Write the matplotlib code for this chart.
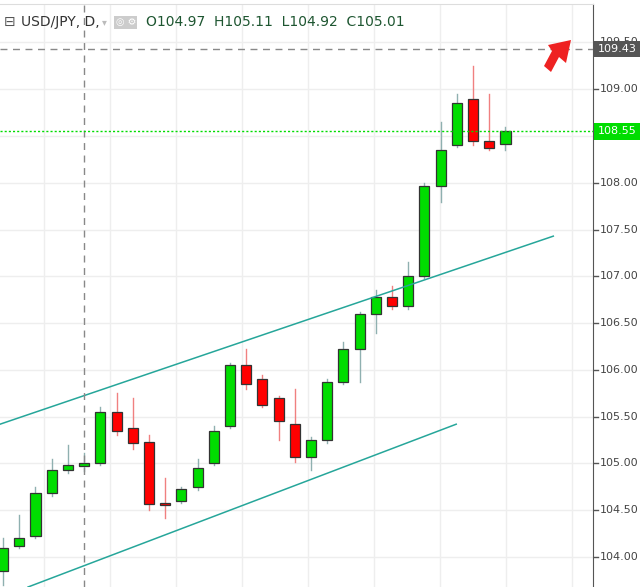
import matplotlib
matplotlib.use("Agg")
import matplotlib.pyplot as plt
from matplotlib.patches import Rectangle, Polygon
import numpy as np

opens  = [103.85,104.12,104.23,104.68,104.93,104.97,105.01,105.55,105.38,105.23,104.58,104.60,104.75,105.00,105.40,106.05,105.90,105.70,105.42,105.07,105.25,105.87,106.22,106.60,106.78,106.68,107.00,107.97,108.40,108.90,108.45,108.42]
closes = [104.10,104.20,104.68,104.93,104.98,105.01,105.55,105.35,105.22,104.57,104.56,104.73,104.95,105.35,106.05,105.85,105.62,105.45,105.07,105.25,105.87,106.22,106.60,106.78,106.68,107.00,107.97,108.35,108.85,108.45,108.37,108.55]
highs  = [104.20,104.45,104.75,105.05,105.20,105.11,105.60,105.75,105.70,105.30,104.85,104.75,105.05,105.40,106.07,106.22,105.95,105.72,105.80,105.28,105.90,106.30,106.62,106.85,106.90,107.15,108.00,108.65,108.95,109.25,108.95,108.60]
lows   = [103.70,104.10,104.20,104.65,104.90,104.92,104.98,105.30,105.15,104.50,104.42,104.58,104.72,104.98,105.38,105.80,105.60,105.25,105.02,104.93,105.22,105.85,105.87,106.40,106.65,106.65,106.98,107.80,108.38,108.40,108.35,108.35]
upper_channel = ([-0.19, 33.95], [105.42, 107.43])
lower_channel = ([1.54, 27.96], [103.68, 105.42])
yticks = [104.0,104.5,105.0,105.5,106.0,106.5,107.0,107.5,108.0,109.0,109.5]
cross_y = 109.43
last_price = 108.55

fig = plt.figure(figsize=(6.4,5.87), dpi=100)
ax = fig.add_axes([0, 0, 593/640, 0.993])
ax.set_xlim(-0.19, 36.4)
ax.set_ylim(103.68, 109.91)
for gx in [2.53, 6.6, 10.68, 14.75, 18.83, 22.9, 26.98, 31.05, 35.1]:
    ax.axvline(gx, color='#eeeeee', lw=1, zorder=0)
for t in yticks + [108.5]:
    ax.axhline(t, color='#eeeeee', lw=1, zorder=0)
w = 0.62
for i,(o,c,h,l) in enumerate(zip(opens,closes,highs,lows)):
    up = c >= o
    col = '#00dd00' if up else '#ff0000'
    wick = '#8fb0b0' if up else '#f08080'
    ax.plot([i,i],[l,h], color=wick, lw=1, zorder=2)
    ax.add_patch(Rectangle((i-w/2, min(o,c)), w, max(abs(c-o),0.015), facecolor=col, edgecolor='#333333', lw=0.9, zorder=3))
ax.plot(*upper_channel, color='#26a69a', lw=1.1, zorder=4)
ax.plot(*lower_channel, color='#26a69a', lw=1.1, zorder=4)
ax.axhline(cross_y, color='#888888', lw=1, ls=(0,(5,4)), zorder=5)
ax.axvline(5, color='#888888', lw=1, ls=(0,(5,4)), zorder=5)
ax.axhline(last_price, color='#00dd00', lw=1, ls=(0,(1.5,1.5)), zorder=5)
ax.set_xticks([]); ax.set_yticks([])
for s in ['left','bottom']:
    ax.spines[s].set_visible(False)
ax.spines['top'].set_color('#dddddd')
ax.spines['right'].set_color('#555555')
ty = 0.969
ax.text(0.006, ty, '⊟', transform=ax.transAxes, fontsize=10, color='#555555', va='center')
ax.text(0.035, ty, 'USD/JPY, D,', transform=ax.transAxes, fontsize=10, color='#333333', va='center')
ax.text(0.172, ty, '▾', transform=ax.transAxes, fontsize=7, color='#bbbbbb', va='center')
ax.text(0.195, ty, '◎ ⚙', transform=ax.transAxes, fontsize=7, color='white', va='center', bbox=dict(boxstyle='square,pad=0.15', fc='#cccccc', ec='none'))
ax.text(0.246, ty, 'O104.97  H105.11  L104.92  C105.01', transform=ax.transAxes, fontsize=10, color='#1e5631', va='center')

H = 587
pts = [(571,40),(566,63),(559,57),(551,72),(544,66),(552,51),(548,45)]
fig.patches.append(Polygon([(x, H-y) for x,y in pts], closed=True, transform=None, facecolor='#ee2222', edgecolor='none', zorder=10))

ax2 = fig.add_axes([593/640, 0, 47/640, 0.993])
ax2.set_xlim(0,1); ax2.set_ylim(ax.get_ylim()); ax2.axis('off')
for t in yticks:
    ax2.text(0.15, t, f'{t:.2f}', fontsize=8, color='#444444', va='center', zorder=1)
    ax2.plot([0,0.1],[t,t], color='#555555', lw=1)
ax2.text(0.1, cross_y, '109.43', fontsize=8, color='white', va='center', zorder=5, bbox=dict(boxstyle='square,pad=0.3', fc='#555555', ec='none'))
ax2.text(0.1, last_price, '108.55', fontsize=8, color='white', va='center', zorder=5, bbox=dict(boxstyle='square,pad=0.3', fc='#00dd00', ec='none'))
fig.savefig('out.png', dpi=100)
